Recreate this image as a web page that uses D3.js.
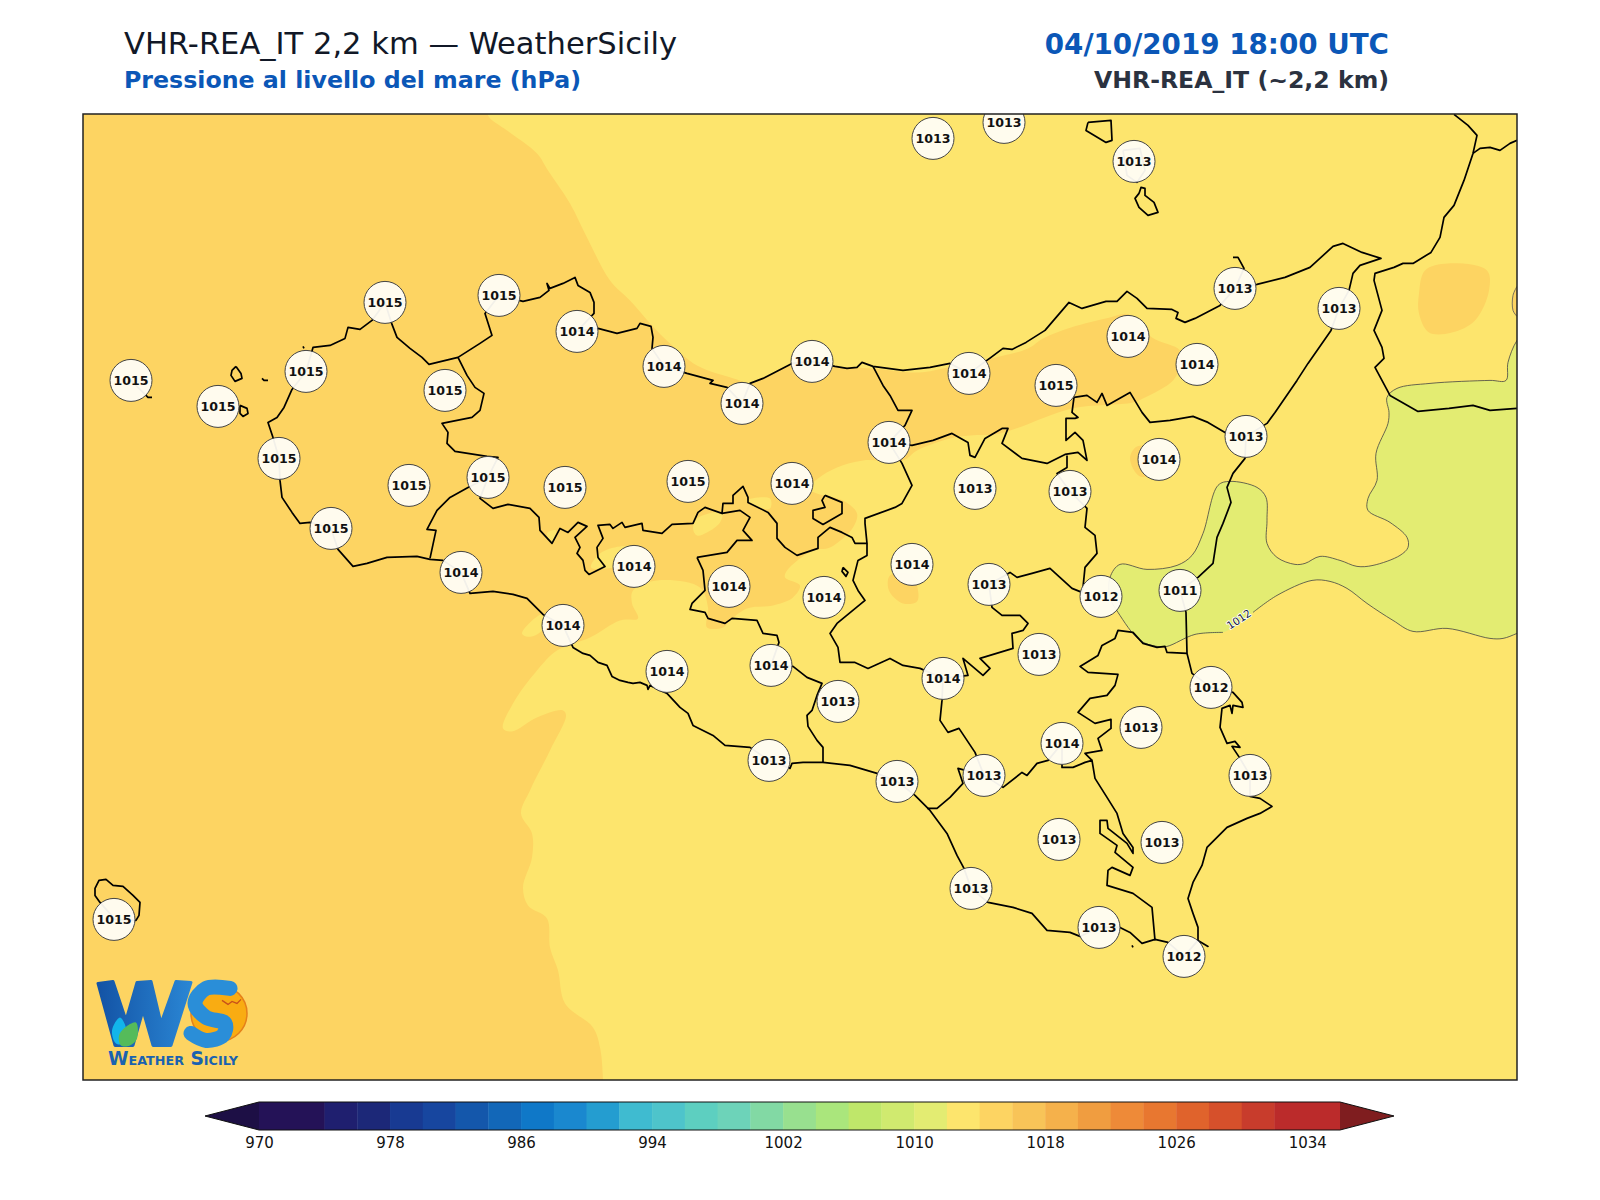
<!DOCTYPE html>
<html>
<head>
<meta charset="utf-8">
<title>VHR-REA_IT MSLP</title>
<script src="https://cdn.jsdelivr.net/npm/d3@7"></script>
<style>
  html, body { margin: 0; padding: 0; background: #fff; }
  text { font-family: "DejaVu Sans", sans-serif; }
</style>
</head>
<body>
<svg id="chart" width="1600" height="1200"></svg>
<script>
// ---- data. Map geometry is in digitised map units (see xMap / yMap)
const stationX = [933,1004,1134,1235,1339,385,499,577,664,742,812,969,1056,1128,1197,131,218,306,445,279,409,488,565,688,792,889,975,1070,1159,1246,331,461,634,729,824,912,989,1101,1180,563,667,771,838,943,1039,1211,1141,1062,769,897,984,1250,1059,1162,971,1099,1184,114];
const stationY = [138,122,161,288,308,302,295,331,366,403,361,373,385,336,364,380,406,371,390,458,485,477,487,481,483,442,488,491,459,436,528,572,566,586,597,564,584,596,590,625,671,665,701,678,654,687,727,743,760,781,775,775,839,842,888,927,956,919];
const stationP = [1013,1013,1013,1013,1013,1015,1015,1014,1014,1014,1014,1014,1015,1014,1014,1015,1015,1015,1015,1015,1015,1015,1015,1015,1014,1014,1013,1013,1014,1013,1015,1014,1014,1014,1014,1014,1013,1012,1011,1014,1014,1014,1013,1014,1013,1012,1013,1014,1013,1013,1013,1013,1013,1013,1013,1013,1012,1015];

// colour bar
const cbarLevels = [970,974,976,978,980,982,984,986,988,990,992,994,996,998,1000,1002,1004,1006,1008,1010,1012,1014,1016,1018,1020,1022,1024,1026,1028,1030,1032,1036];
const cbarColors = ["#241257","#1f1f6f","#1c2878","#183a92","#17469f","#1457ab","#1267b8","#0f78c8","#1a88cf","#249dd0","#3fbbd0","#4ec4cb","#5dcfc0","#6dd3b9","#82d9a4","#98e08f","#aae67c","#bfe76a","#d0ea6f","#e3ec72","#fde56d","#fdd462","#f8c458","#f5b14b","#f09d40","#ee8a38","#e87730","#e0632c","#d6502b","#c83c2c","#bb2b2b"];
const cbarTicks = [970,978,986,994,1002,1010,1018,1026,1034];
const cbarUnder = "#1d0f45";
const cbarOver = "#7f1d1f";

// 1014-1016 area
const area1014 = [[488,100],[488,115],[507,130],[537,153],[548,170],[570,203],[587,237],[610,280],[630,300],[652,325],[670,343],[697,365],[737,379],[750,383],[763,378],[792,364],[812,361],[835,366],[873,368],[919,372],[948,367],[991,358],[1028,348],[1043,338],[1071,327],[1110,317],[1129,314],[1152,337],[1180,350],[1181,363],[1173,380],[1145,397],[1133,402],[1072,408],[1000,433],[970,435],[950,438],[917,450],[903,460],[863,460],[837,467],[818,478],[808,488],[817,493],[843,500],[857,513],[853,527],[830,547],[813,550],[787,570],[785,577],[800,585],[793,597],[773,605],[747,608],[730,620],[723,627],[707,627],[708,607],[700,587],[657,580],[633,590],[632,603],[638,618],[620,620],[590,637],[557,650],[537,670],[513,703],[503,728],[512,731],[537,717],[563,710],[566,715],[550,750],[530,790],[521,813],[532,833],[532,857],[523,887],[528,905],[547,918],[550,947],[558,970],[565,1003],[593,1027],[600,1047],[603,1079],[603,1100],[60,1100],[60,100]];
const islets1014 = [
  [[890,575],[889,590],[903,603],[917,601],[918,590],[912,575]],
  [[1137,446],[1130,458],[1140,476],[1160,470],[1160,450]],
  [[1419,293],[1425,270],[1448,263],[1487,270],[1489,290],[1475,320],[1452,332],[1429,332],[1419,313]],
  [[1530,284],[1517,286],[1513,295],[1513,310],[1517,316],[1530,318]]
];
// 1012-1014 pockets inside the 1014-1016 area
const islets1012 = [
  [[522,633],[530,622],[543,614],[546,625],[535,635],[526,636]],
  [[693,528],[697,518],[722,512],[720,522],[707,532],[697,535]],
  [[591,567],[600,553],[620,546],[640,548],[640,560],[615,567]],
  [[747,500],[770,498],[770,508],[752,505]],
  [[547,533],[556,530],[552,543]]
];
// 1010-1012 area, opened where the 1012 label sits
const area1010 = [[1223,632],[1195,634],[1167,646],[1157,646],[1140,640],[1118,612],[1110,597],[1110,577],[1120,564],[1147,569],[1177,565],[1192,555],[1203,533],[1218,485],[1230,481],[1257,487],[1266,497],[1267,520],[1267,543],[1277,557],[1295,564],[1305,563],[1320,556],[1340,560],[1357,566],[1373,565],[1400,555],[1408,547],[1407,537],[1390,522],[1368,510],[1368,498],[1377,480],[1376,453],[1388,423],[1389,412],[1387,397],[1397,388],[1430,383],[1490,380],[1506,380],[1508,362],[1517,340],[1535,320],[1535,625],[1517,633],[1503,638],[1490,638],[1447,628],[1413,631],[1393,620],[1367,603],[1347,588],[1330,581],[1312,580],[1277,595],[1253,612]];
const contourLabel = {text: "1012", x: 1239, y: 619, angle: -33};

// coast and provincial borders
const coastSicily = [[306,371],[292,389],[284,407],[277,417],[268,422],[273,437],[279,458],[280,480],[282,497],[292,512],[300,523],[310,522],[331,528],[338,549],[353,566],[367,563],[387,557],[417,556],[430,559],[443,560],[461,572],[470,593],[493,591],[513,594],[527,598],[543,614],[563,625],[573,647],[583,653],[590,655],[598,662],[607,665],[612,676],[620,680],[628,682],[633,683],[640,682],[647,685],[648,689],[650,685],[667,693],[680,707],[688,713],[693,725],[705,731],[713,735],[725,745],[750,747],[769,760],[790,768],[792,763],[803,762],[823,762],[850,765],[877,773],[897,781],[915,795],[930,810],[947,833],[957,855],[964,868],[971,888],[988,902],[1013,907],[1032,913],[1047,930],[1070,932],[1080,936],[1099,927],[1120,927],[1130,932],[1142,943],[1155,939],[1168,942],[1184,956],[1198,940],[1208,946],[1198,940],[1198,927],[1193,913],[1188,898],[1193,882],[1202,865],[1207,847],[1227,827],[1247,818],[1260,813],[1272,806],[1260,798],[1250,796],[1250,775],[1240,758],[1232,746],[1240,747],[1235,741],[1227,743],[1220,727],[1222,708],[1230,705],[1232,713],[1233,705],[1243,707],[1242,702],[1233,692],[1211,687],[1192,673],[1187,653],[1186,612],[1180,590],[1198,577],[1213,563],[1217,537],[1223,523],[1231,502],[1227,487],[1233,473],[1245,458],[1246,436],[1267,423],[1275,412],[1297,380],[1308,363],[1331,330],[1339,308],[1349,290],[1353,273],[1360,265],[1381,258],[1362,252],[1343,243],[1333,246],[1310,267],[1285,277],[1257,284],[1235,288],[1220,305],[1195,318],[1185,322],[1176,318],[1178,312],[1172,309],[1147,308],[1137,298],[1127,291],[1117,301],[1106,301],[1082,308],[1069,302],[1045,330],[1026,342],[1012,349],[1003,348],[991,357],[969,373],[950,363],[930,367],[903,370],[873,366],[862,362],[857,367],[847,368],[835,366],[812,361],[792,363],[763,378],[750,383],[742,403],[727,387],[710,383],[713,380],[687,373],[664,366],[652,348],[653,337],[651,326],[640,323],[637,328],[617,333],[598,328],[577,331],[594,313],[594,302],[590,292],[578,285],[575,277],[563,283],[550,288],[547,283],[549,290],[540,297],[523,301],[499,295],[485,313],[492,335],[480,343],[458,357],[429,364],[422,357],[410,348],[397,337],[392,324],[385,302],[372,320],[360,329],[348,327],[345,338],[330,345],[313,347],[306,371]];
const borderLines = [
  [[458,357],[467,375],[475,387],[484,393],[480,410],[472,417],[442,423],[448,432],[447,443],[455,451],[487,456],[498,457],[488,477],[468,487],[450,497],[437,510],[427,529],[436,530],[430,558]],
  [[488,477],[480,498],[493,508],[508,504],[530,508],[539,517],[540,530],[552,543],[560,528],[568,532],[578,522],[587,526],[575,537],[580,547],[577,553],[583,560],[585,570],[589,574],[605,566],[598,557],[597,547],[603,538],[598,525],[610,524],[613,528],[622,522],[625,527],[642,523],[643,530],[662,533],[672,524],[693,523],[698,512],[705,507],[722,513],[723,503],[733,503],[733,495],[743,486],[748,497],[748,502],[768,512],[777,523],[777,538],[785,547],[797,555],[818,548],[818,537],[830,527],[842,532],[852,537],[855,543],[867,543],[865,523],[865,518],[895,507],[902,503],[912,485],[902,463],[889,442]],
  [[873,366],[883,385],[890,395],[898,410],[912,410],[905,425],[889,442],[912,445],[933,440],[952,433],[968,442],[970,455],[975,457],[985,438],[1002,428],[1008,428],[1002,443],[1022,458],[1047,463],[1065,454],[1078,452],[1087,460],[1083,440],[1075,432],[1066,440],[1066,418],[1075,418],[1078,417],[1072,412],[1074,397],[1087,395],[1097,402],[1102,393],[1107,405],[1130,392],[1142,412],[1150,422],[1170,420],[1193,416],[1208,422],[1225,432],[1246,436]],
  [[1067,455],[1067,467],[1057,473],[1070,491],[1087,508],[1085,527],[1095,535],[1097,553],[1085,567],[1083,587],[1082,592],[1072,588],[1050,568],[1032,573],[1017,577],[1010,572],[989,584],[992,607],[1002,615],[1020,615],[1028,623],[1023,630],[1012,633],[1013,648],[980,658],[990,668],[983,675],[963,658],[968,675],[943,678],[920,668],[903,665],[890,658],[868,668],[855,662],[840,662],[838,647],[830,633],[837,623],[865,600],[858,590],[853,580],[858,560],[867,555],[867,543]],
  [[697,557],[703,570],[705,590],[692,603],[690,609],[705,612],[708,618],[725,623],[732,618],[757,620],[763,633],[777,635],[779,642],[771,665],[793,666],[807,677],[822,683],[817,695],[812,710],[807,715],[808,726],[817,740],[823,747],[823,762]],
  [[697,557],[727,552],[737,540],[752,540],[743,530],[750,517],[740,510],[722,513]],
  [[943,678],[942,700],[940,720],[948,732],[959,728],[975,752],[984,775],[958,768],[963,783],[950,797],[937,808],[927,808]],
  [[984,775],[1003,787],[1022,772],[1027,775],[1037,763],[1048,760],[1062,743],[1062,767],[1073,767],[1085,762],[1092,760],[1095,778],[1107,797],[1117,813],[1123,833],[1133,847],[1133,853],[1127,843],[1108,828],[1107,820],[1100,820],[1100,833],[1117,845],[1115,852],[1133,867],[1130,875],[1112,867],[1108,870],[1107,885],[1133,893],[1152,907],[1155,940]],
  [[1187,653],[1167,652],[1165,646],[1157,647],[1143,643],[1133,632],[1118,630],[1115,638],[1102,645],[1098,655],[1080,666],[1088,672],[1118,674],[1115,685],[1107,695],[1090,698],[1078,712],[1095,723],[1111,719],[1111,728],[1098,738],[1102,750],[1085,753],[1092,760]],
  [[1235,288],[1244,268],[1238,257],[1233,257]]
];
const islands = [
  [[240,405],[247,408],[248,413],[243,416],[240,413],[240,405]],
  [[236,366],[241,373],[242,378],[235,381],[231,375],[232,370],[236,366]],
  [[262,378],[264,380],[268,380]],
  [[131,380],[148,397],[152,397]],
  [[303,346],[304,348]],
  [[1132,945],[1133,947]],
  [[825,495],[842,502],[842,513],[823,524],[813,518],[813,510],[825,507],[822,500],[825,495]],
  [[843,567],[848,572],[846,576],[842,571],[843,567]],
  [[1088,122],[1111,120],[1112,140],[1106,142],[1086,130],[1088,122]],
  [[1139,193],[1141,187],[1145,188],[1145,195],[1154,202],[1158,212],[1148,215],[1139,207],[1135,198],[1139,193]],
  [[1123,150],[1140,148],[1145,170],[1137,182],[1127,175],[1123,150]],
  [[100,902],[95,895],[95,888],[99,880],[106,879],[113,885],[123,886],[133,895],[140,902],[139,915],[136,920],[115,919],[100,902]]
];
const coastCalabria = [[1454,114],[1468,125],[1477,135],[1473,153],[1464,180],[1454,205],[1444,217],[1440,237],[1431,252],[1413,263],[1403,263],[1394,267],[1375,273],[1374,280],[1382,310],[1374,330],[1382,347],[1384,358],[1375,367],[1390,395],[1418,411],[1449,408],[1473,405],[1490,410],[1517,408]];
const coastCalabria2 = [[1473,153],[1480,148],[1490,147],[1500,150],[1510,143],[1517,140]];

// logo shapes
const logoW = [[98,983],[113,981],[126,1020],[137,982],[151,981],[161,1023],[176,981],[191,982],[171,1045],[153,1045],[143,1010],[133,1045],[115,1045]];
const logoS = [[230,988],[206,988],[195,1003],[206,1017],[225,1023],[223,1035],[206,1040],[191,1033]];
const logoDrop = [[120,1017],[127,1031],[125,1043],[116,1043],[112,1030]];
const logoLeaf = [[136,1022],[137,1038],[130,1045],[121,1045],[119,1035],[125,1027]];
const logoBird = [[222,1000],[228,1004],[232,1001],[237,1003],[241,999]];

const titleLeft = "VHR-REA_IT 2,2 km \u2014 WeatherSicily";
const subtitleLeft = "Pressione al livello del mare (hPa)";
const titleRight = "04/10/2019 18:00 UTC";
const subtitleRight = "VHR-REA_IT (~2,2 km)";

// ---- layout
const frame = {left: 83, right: 1517, top: 114, bottom: 1080};
const svg = d3.select("#chart");

const xMap = d3.scaleLinear().domain([83, 1517]).range([frame.left, frame.right]);
const yMap = d3.scaleLinear().domain([113.6, 1079.6]).range([frame.top, frame.bottom]);

const smoothClosed = d3.line().x(d => xMap(d[0])).y(d => yMap(d[1])).curve(d3.curveCatmullRomClosed.alpha(0.5));
const smoothOpen = d3.line().x(d => xMap(d[0])).y(d => yMap(d[1])).curve(d3.curveCatmullRom.alpha(0.5));
const straight = d3.line().x(d => xMap(d[0])).y(d => yMap(d[1]));
const straightClosed = d3.line().x(d => xMap(d[0])).y(d => yMap(d[1])).curve(d3.curveLinearClosed);

svg.append("defs").append("clipPath").attr("id", "map-clip")
  .append("rect")
  .attr("x", frame.left).attr("y", frame.top)
  .attr("width", frame.right - frame.left).attr("height", frame.bottom - frame.top);

// ---- titles
svg.append("text").attr("x", 124).attr("y", 54).attr("font-size", 30.56).attr("fill", "#111827").text(titleLeft);
svg.append("text").attr("x", 124).attr("y", 88).attr("font-size", 23.7).attr("font-weight", "bold").attr("fill", "#0b57b7").text(subtitleLeft);
svg.append("text").attr("x", 1389).attr("y", 54).attr("text-anchor", "end").attr("font-size", 27.75).attr("font-weight", "bold").attr("fill", "#0b57b7").text(titleRight);
svg.append("text").attr("x", 1389).attr("y", 88).attr("text-anchor", "end").attr("font-size", 23.6).attr("font-weight", "bold").attr("fill", "#2b3240").text(subtitleRight);

// ---- map
const map = svg.append("g").attr("clip-path", "url(#map-clip)");
const colour = d3.scaleThreshold().domain(cbarLevels.slice(1, -1)).range(cbarColors);

map.append("rect").attr("x", frame.left).attr("y", frame.top)
  .attr("width", frame.right - frame.left).attr("height", frame.bottom - frame.top)
  .attr("fill", colour(1013));

map.append("path").attr("d", smoothClosed(area1014)).attr("fill", colour(1015));
map.selectAll(".islet14").data(islets1014).enter().append("path")
  .attr("class", "islet14").attr("d", smoothClosed).attr("fill", colour(1015));
map.selectAll(".islet12").data(islets1012).enter().append("path")
  .attr("class", "islet12").attr("d", smoothClosed).attr("fill", colour(1013));

map.append("path").attr("d", smoothClosed(area1010)).attr("fill", colour(1011));
map.append("path").attr("d", smoothOpen(area1010)).attr("fill", "none").attr("stroke", "#444").attr("stroke-width", 0.8);
map.append("path").attr("d", smoothOpen(islets1014[3].slice(1, 5))).attr("fill", "none").attr("stroke", "#555").attr("stroke-width", 0.8);

map.append("text")
  .attr("transform", "translate(" + xMap(contourLabel.x) + "," + yMap(contourLabel.y) + ") rotate(" + contourLabel.angle + ")")
  .attr("text-anchor", "middle").attr("dy", "0.35em")
  .attr("font-size", 10.5).attr("fill", "#14183f")
  .attr("stroke", "#fff").attr("stroke-width", 1.6).attr("paint-order", "stroke")
  .text(contourLabel.text);

// coast + borders
const lineGroup = map.append("g").attr("fill", "none").attr("stroke", "#000").attr("stroke-width", 1.7).attr("stroke-linejoin", "round");
lineGroup.append("path").attr("d", straight(coastSicily));
lineGroup.append("path").attr("d", straight(coastCalabria));
lineGroup.append("path").attr("d", straight(coastCalabria2));
lineGroup.selectAll(".border").data(borderLines).enter().append("path").attr("class", "border").attr("d", straight);
lineGroup.selectAll(".island").data(islands).enter().append("path").attr("class", "island").attr("d", straight);

// station bubbles
const stations = d3.range(stationP.length).map(i => ({x: stationX[i], y: stationY[i], p: stationP[i]}));
const bubble = map.selectAll(".station").data(stations).enter().append("g")
  .attr("class", "station")
  .attr("transform", d => "translate(" + xMap(d.x) + "," + yMap(d.y) + ")");
bubble.append("circle").attr("r", 21).attr("fill", "#fffdf6").attr("fill-opacity", 0.95).attr("stroke", "#444").attr("stroke-width", 1);
bubble.append("text").attr("text-anchor", "middle").attr("dy", "0.36em")
  .attr("font-size", 12.6).attr("font-weight", "bold").attr("fill", "#111").text(d => d.p);

// logo
const logo = map.append("g");
const grad = svg.select("defs").append("linearGradient").attr("id", "logo-blue");
grad.append("stop").attr("offset", "0").attr("stop-color", "#1353a5");
grad.append("stop").attr("offset", "1").attr("stop-color", "#2a86d4");
logo.append("path").attr("d", straightClosed(logoW)).attr("fill", "url(#logo-blue)").attr("stroke", "url(#logo-blue)").attr("stroke-width", 3).attr("stroke-linejoin", "round");
logo.append("circle").attr("cx", xMap(219)).attr("cy", yMap(1013)).attr("r", 28).attr("fill", "#f9ac12").attr("stroke", "#e5801a").attr("stroke-width", 1.5);
logo.append("path").attr("d", smoothOpen(logoS)).attr("fill", "none").attr("stroke", "#2a8ed8").attr("stroke-width", 15).attr("stroke-linecap", "round");
logo.append("path").attr("d", smoothClosed(logoDrop)).attr("fill", "#12b5ea");
logo.append("path").attr("d", smoothClosed(logoLeaf)).attr("fill", "#55bb5a");
logo.append("path").attr("d", straight(logoBird)).attr("fill", "none").attr("stroke", "#c8501a").attr("stroke-width", 1.3);
logo.append("text").attr("x", xMap(108)).attr("y", yMap(1065)).attr("font-family", "Liberation Sans").attr("font-weight", "bold")
  .attr("font-size", 19).attr("font-variant", "small-caps").attr("fill", "#1a62b0")
  .attr("textLength", 130).attr("lengthAdjust", "spacingAndGlyphs").text("Weather Sicily");

// ---- colour bar
const cbarScale = d3.scaleLinear().domain([970, 1036]).range([259, 1340]);
const cbarTop = 1102, cbarBottom = 1130, cbarExtend = 54;
const cbar = svg.append("g");
cbar.selectAll("rect").data(cbarColors).enter().append("rect")
  .attr("x", (d, i) => cbarScale(cbarLevels[i]))
  .attr("y", cbarTop)
  .attr("width", (d, i) => cbarScale(cbarLevels[i + 1]) - cbarScale(cbarLevels[i]) + 0.4)
  .attr("height", cbarBottom - cbarTop)
  .attr("fill", d => d);
cbar.append("path").attr("fill", cbarUnder)
  .attr("d", "M" + cbarScale(970) + "," + cbarTop + "L" + (cbarScale(970) - cbarExtend) + "," + (cbarTop + cbarBottom) / 2 + "L" + cbarScale(970) + "," + cbarBottom + "Z");
cbar.append("path").attr("fill", cbarOver)
  .attr("d", "M" + cbarScale(1036) + "," + cbarTop + "L" + (cbarScale(1036) + cbarExtend) + "," + (cbarTop + cbarBottom) / 2 + "L" + cbarScale(1036) + "," + cbarBottom + "Z");
cbar.append("path").attr("fill", "none").attr("stroke", "#111").attr("stroke-width", 1)
  .attr("d", "M" + cbarScale(970) + "," + cbarTop + "L" + (cbarScale(970) - cbarExtend) + "," + (cbarTop + cbarBottom) / 2 + "L" + cbarScale(970) + "," + cbarBottom
    + "L" + cbarScale(1036) + "," + cbarBottom + "L" + (cbarScale(1036) + cbarExtend) + "," + (cbarTop + cbarBottom) / 2 + "L" + cbarScale(1036) + "," + cbarTop + "Z");

const cbarAxis = d3.axisBottom(cbarScale).tickValues(cbarTicks).tickFormat(d3.format("d")).tickSize(0).tickPadding(7);
svg.append("g").attr("transform", "translate(0," + cbarBottom + ")").call(cbarAxis)
  .call(g => g.select(".domain").remove())
  .selectAll("text").attr("font-size", 15).attr("font-family", "DejaVu Sans").attr("fill", "#111");

// frame on top
svg.append("rect").attr("x", frame.left).attr("y", frame.top)
  .attr("width", frame.right - frame.left).attr("height", frame.bottom - frame.top)
  .attr("fill", "none").attr("stroke", "#222").attr("stroke-width", 1.5);
</script>
</body>
</html>
